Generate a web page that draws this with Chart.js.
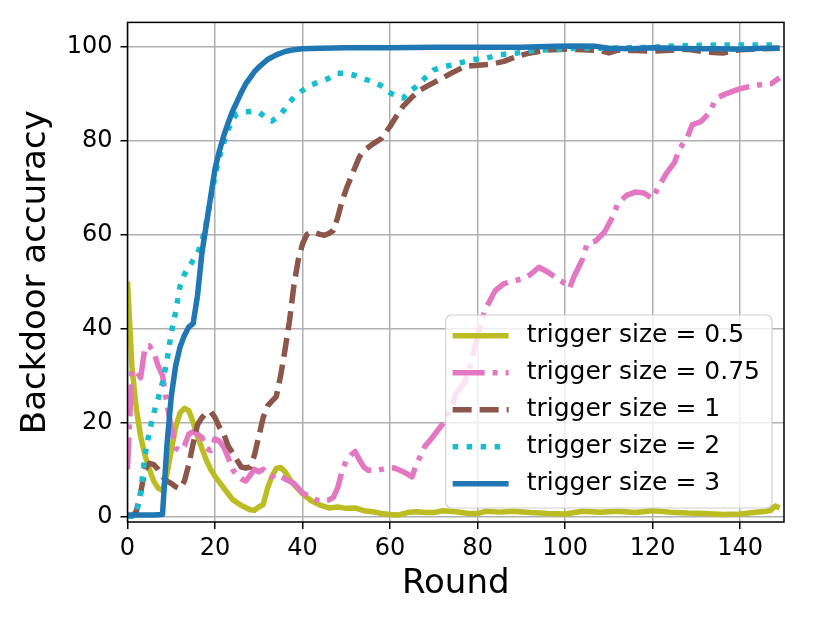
<!DOCTYPE html>
<html>
<head>
<meta charset="utf-8">
<script src="https://cdn.jsdelivr.net/npm/chart.js@4"></script>
<style>
  html, body { margin: 0; padding: 0; background: #fff; }
</style>
</head>
<body>
<canvas id="chart" width="830" height="623"></canvas>
<script>
// Axis ticks
const xTicks = [0, 20, 40, 60, 80, 100, 120, 140];
const yTicks = [0, 20, 40, 60, 80, 100];

// trigger size = 0.5
const roundsA = [0, 1, 2, 3, 4, 5, 6, 7, 8, 9, 10, 11, 12, 13, 14, 15, 16, 17, 18, 19, 20, 22, 24, 26, 28, 29, 30, 31, 32, 33, 34, 35, 36, 37, 38, 40, 42, 44, 46, 48, 50, 52, 54, 56, 58, 60, 62, 64, 66, 68, 70, 72, 75, 78, 80, 82, 85, 88, 92, 96, 100, 104, 108, 112, 116, 120, 124, 128, 132, 136, 140, 143, 146, 147, 148, 149];
const accA = [50, 32, 23, 17, 13, 10, 7.5, 6, 5.5, 9, 14, 19, 22, 23, 22.5, 20, 17, 14.5, 12, 10, 8.5, 6, 3.6, 2.3, 1.4, 1.3, 2, 2.5, 6, 8.5, 10.2, 10.4, 9.5, 8, 6.8, 4.8, 3.3, 2.4, 1.8, 2, 1.7, 1.8, 1.2, 1, 0.6, 0.4, 0.3, 0.8, 1, 0.8, 0.8, 1.2, 1, 0.6, 0.6, 1.1, 0.9, 1.1, 0.8, 0.6, 0.5, 1.1, 0.9, 1.1, 0.8, 1.2, 0.9, 0.7, 0.6, 0.4, 0.5, 0.8, 1.1, 1.3, 2.2, 1.8];

// trigger size = 0.75
const roundsB = [0, 1, 2, 3, 4, 5, 6, 7, 8, 9, 10, 11, 12, 13, 14, 15, 16, 17, 18, 19, 20, 21, 22, 23, 24, 25, 26, 27, 28, 29, 30, 31, 32, 33, 34, 35, 36, 38, 40, 42, 44, 46, 47, 48, 49, 50, 51, 52, 53, 54, 55, 57, 59, 61, 63, 65, 66, 67, 68, 69, 70, 72, 74, 75, 77, 78, 79, 80, 81, 82, 84, 86, 88, 90, 92, 94, 96, 98, 100, 101, 102, 104, 105, 107, 109, 111, 112, 114, 116, 118, 120, 121, 123, 125, 126, 128, 129, 131, 133, 134, 135, 137, 140, 142, 145, 147, 149];
const accB = [10, 31, 31, 29.5, 36, 36.3, 35, 32, 30, 24, 19, 14.5, 14, 15, 17.5, 18, 17.5, 16.8, 14.5, 14, 16.5, 16, 14.7, 12.5, 10, 8.7, 8, 7.5, 8.7, 10, 9.5, 10, 9, 8.4, 9, 8.5, 8, 7, 5, 4, 3.2, 3.5, 4, 6, 9.5, 12, 13, 13.8, 12, 10.5, 9.8, 9.8, 10.2, 10.3, 9.5, 8.4, 11, 13, 15, 16, 17.2, 19.7, 23, 26, 28.5, 31, 34.5, 38.5, 42, 44.5, 48, 49.5, 50, 50.5, 51.4, 53, 52, 50.7, 49.5, 48.5, 51, 54.8, 58, 58.6, 60.5, 64, 66.5, 68.3, 69, 68.8, 67.6, 69.5, 72.8, 75.3, 78, 80.8, 83.3, 84, 85.9, 88, 89.2, 90, 91, 91.4, 91.9, 92, 93.3];

// trigger size = 1
const roundsC = [0, 1, 2, 3, 4, 5, 6, 7, 8, 9, 10, 11, 12, 13, 14, 15, 16, 17, 18, 19, 20, 21, 22, 23, 24, 25, 26, 27, 28, 29, 30, 31, 32, 33, 34, 35, 36, 37, 38, 39, 40, 41, 42, 43, 44, 45, 46, 47, 48, 49, 50, 51, 52, 53, 54, 56, 58, 60, 61, 63, 65, 67, 69, 71, 74, 77, 80, 83, 86, 89, 92, 96, 100, 104, 108, 110, 112, 116, 120, 124, 128, 132, 136, 140, 145, 149];
const accC = [0, 0, 1, 5, 10, 11.3, 11, 10, 8.5, 7.5, 7, 6.3, 5.9, 7.5, 11, 15.5, 19.5, 21, 22, 22.3, 21, 19, 17.5, 15, 13.5, 12, 10.5, 10.3, 10.5, 13, 17, 21, 23.5, 24.5, 25.5, 30, 35.5, 41.5, 49, 54.5, 58, 60, 60.5, 60.3, 60, 59.8, 60.2, 60.8, 63.5, 67, 69.7, 72, 74.3, 76.5, 77.8, 79.2, 80.4, 83, 84.5, 87.3, 89.2, 90.8, 91.8, 92.8, 94.3, 95.7, 96, 96.2, 96.8, 97.9, 98.6, 99.2, 99.4, 99.3, 99.1, 98.6, 99.2, 99.1, 99, 99.2, 99.4, 98.8, 98.6, 99.3, 99.5, 99.6];

// trigger size = 2
const roundsD = [0, 1, 2, 3, 4, 5, 6, 7, 8, 9, 10, 11, 12, 13, 14, 15, 16, 17, 18, 19, 20, 21, 22, 23, 24, 25, 27, 29, 30, 31, 32, 33, 34, 35, 36, 37, 38, 40, 42, 44, 46, 48, 50, 52, 54, 56, 58, 60, 62, 63, 64, 66, 68, 70, 72, 74, 76, 79, 82, 85, 89, 93, 96, 100, 105, 110, 115, 120, 125, 130, 135, 140, 145, 149];
const accD = [0, 0, 0.5, 5, 13, 18, 22, 25, 28.5, 33, 39, 43.5, 49, 51.5, 53, 54.5, 56, 58.4, 62.5, 67.5, 72.5, 76.5, 79.5, 82.3, 84.5, 85.6, 86.1, 86.2, 86, 85.3, 84.5, 84.1, 84.8, 85.6, 86.7, 88, 89.2, 90.6, 91.8, 92.5, 93.2, 94.3, 94.3, 93.8, 93.1, 92.5, 91.6, 90.1, 89.2, 89, 90, 91.5, 93.3, 95, 95.6, 96, 96.5, 97.2, 97.5, 98.2, 98.6, 99.1, 99.3, 99.5, 99.6, 99.6, 99.7, 99.8, 100.1, 100.2, 100.3, 100.3, 100.3, 100.3];

// trigger size = 3
const roundsE = [0, 2, 4, 6, 8, 9, 10, 11, 12, 13, 14, 15, 16, 17, 18, 19, 20, 21, 22, 23, 24, 25, 26, 27, 28, 29, 30, 32, 34, 36, 38, 40, 44, 50, 60, 70, 80, 90, 98, 103, 107, 110, 115, 120, 125, 130, 135, 140, 145, 149];
const accE = [0.3, 0.3, 0.3, 0.3, 0.4, 15, 25.5, 32, 36, 38.5, 40.3, 41, 47, 56, 62, 68, 74, 77.8, 81, 83.7, 86.2, 88.2, 90.2, 92, 93.3, 94.6, 95.6, 97.2, 98.2, 98.9, 99.3, 99.5, 99.6, 99.7, 99.7, 99.8, 99.8, 99.8, 100, 100.1, 100, 99.6, 99.5, 99.7, 99.6, 99.5, 99.5, 99.4, 99.6, 99.6];

const labels = ["trigger size = 0.5", "trigger size = 0.75", "trigger size = 1", "trigger size = 2", "trigger size = 3"];
const colors = ["#bcbd22", "#e377c2", "#8c564b", "#17becf", "#1f77b4"];
const dashes = [[], [32, 8, 5, 8], [19, 8], [5.5, 8.5], []];

function points(xs, ys) {
    return xs.map((x, i) => ({ x: x, y: ys[i] }));
}

const seriesData = [points(roundsA, accA), points(roundsB, accB), points(roundsC, accC), points(roundsD, accD), points(roundsE, accE)];

const datasets = seriesData.map((d, i) => ({
    label: labels[i],
    data: d,
    borderColor: colors[i],
    borderWidth: 5.5,
    borderDash: dashes[i],
    borderCapStyle: "butt",
    borderJoinStyle: "round",
    pointRadius: 0,
    tension: 0,
    fill: false,
    order: 5 - i
}));

// frame around the plot + legend box inside the plot area
const frameAndLegend = {
    id: "frameAndLegend",
    afterDatasetsDraw(chart) {
        const ctx = chart.ctx;
        const a = chart.chartArea;
        ctx.save();
        ctx.strokeStyle = "#000";
        ctx.lineWidth = 1.5;
        ctx.setLineDash([]);
        ctx.strokeRect(a.left, a.top, a.right - a.left, a.bottom - a.top);

        ctx.font = "25px 'DejaVu Sans'";
        let maxW = 0;
        labels.forEach(t => { maxW = Math.max(maxW, ctx.measureText(t).width); });
        const w = 81 + maxW + 12;
        const h = 193;
        const x0 = a.right - 12 - w;
        const y0 = a.bottom - 14 - h;

        ctx.beginPath();
        ctx.roundRect(x0, y0, w, h, 6);
        ctx.fillStyle = "rgba(255,255,255,0.8)";
        ctx.fill();
        ctx.strokeStyle = "#d0d0d0";
        ctx.lineWidth = 1.2;
        ctx.stroke();

        labels.forEach((t, i) => {
            const cy = y0 + 20.7 + i * 37;
            ctx.beginPath();
            ctx.setLineDash(dashes[i]);
            ctx.lineCap = "butt";
            ctx.strokeStyle = colors[i];
            ctx.lineWidth = 5.5;
            ctx.moveTo(x0 + 7, cy);
            ctx.lineTo(x0 + 63, cy);
            ctx.stroke();
            ctx.setLineDash([]);
            ctx.fillStyle = "#000";
            ctx.textAlign = "left";
            ctx.textBaseline = "middle";
            ctx.fillText(t, x0 + 81, cy);
        });
        ctx.restore();
    }
};

Chart.defaults.font.family = "'DejaVu Sans', sans-serif";
Chart.defaults.color = "#000";

new Chart(document.getElementById("chart").getContext("2d"), {
    type: "line",
    data: { datasets: datasets },
    options: {
        responsive: false,
        animation: false,
        events: [],
        layout: { padding: { top: 19, right: 46, left: 0, bottom: 0 } },
        plugins: {
            legend: { display: false },
            tooltip: { enabled: false }
        },
        scales: {
            x: {
                type: "linear",
                min: 0,
                max: 150,
                afterBuildTicks: scale => { scale.ticks = xTicks.map(v => ({ value: v })); },
                afterFit: scale => { scale.height = 101; },
                grid: { color: "#b0b0b0", lineWidth: 1.5, tickColor: "#000", tickLength: 7, tickWidth: 1.5 },
                border: { display: false },
                ticks: { font: { size: 24 }, padding: 5, maxRotation: 0 },
                title: { display: true, text: "Round", font: { size: 34 }, padding: { top: 0, bottom: 18 } }
            },
            y: {
                type: "linear",
                min: -1.2,
                max: 105.1,
                afterBuildTicks: scale => { scale.ticks = yTicks.map(v => ({ value: v })); },
                afterFit: scale => { scale.width = 127.5; },
                grid: { color: "#b0b0b0", lineWidth: 1.5, tickColor: "#000", tickLength: 7, tickWidth: 1.5 },
                border: { display: false },
                ticks: { font: { size: 24 }, padding: 8 },
                title: { display: true, text: "Backdoor accuracy", font: { size: 34 }, padding: { top: 16, bottom: 0 } }
            }
        }
    },
    plugins: [frameAndLegend]
});
</script>
</body>
</html>
